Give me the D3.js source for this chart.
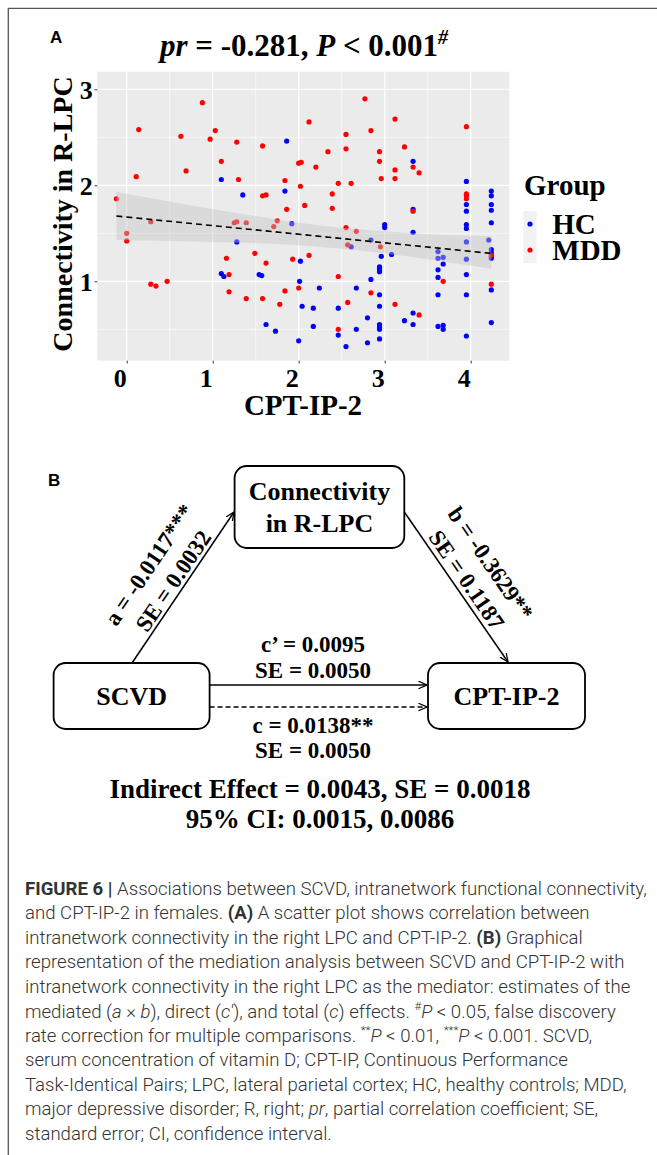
<!DOCTYPE html>
<html>
<head>
<meta charset="utf-8">
<script src="https://cdn.jsdelivr.net/npm/d3@7"></script>
<style>
body { margin: 0; background: #fff; }
svg { display: block; }
</style>
</head>
<body>
<div id="place"></div>
<script>
// scatter values (CPT-IP-2, connectivity in R-LPC)
const hcPoints = [
  [1.86, 2.46], [1.10, 2.06], [1.35, 1.90], [1.84, 1.94], [3.33, 2.25], [3.95, 2.04],
  [3.33, 1.75], [3.95, 1.80], [3.95, 1.73], [4.24, 1.94], [4.24, 1.89], [4.24, 1.80],
  [4.24, 1.74], [4.24, 1.61], [3.33, 1.51], [1.92, 1.60], [1.28, 1.41], [2.02, 1.21],
  [1.10, 1.08], [1.13, 1.05], [1.54, 1.07], [1.57, 1.06], [2.01, 1.00], [2.04, 0.74],
  [1.62, 0.55], [1.73, 0.48], [2.00, 0.38], [2.61, 1.36], [2.84, 1.43], [3.00, 1.59],
  [3.00, 1.56], [2.96, 1.26], [3.08, 1.28], [2.94, 1.15], [2.94, 1.13], [2.94, 1.10],
  [2.84, 1.02], [2.24, 0.93], [2.67, 0.93], [2.94, 0.86], [2.94, 0.74], [2.17, 0.72],
  [2.46, 0.72], [2.80, 0.62], [3.33, 0.67], [3.23, 0.59], [3.33, 0.55], [2.94, 0.55],
  [2.94, 0.52], [2.94, 0.50], [2.17, 0.53], [2.46, 0.44], [2.67, 0.50], [2.55, 0.32],
  [2.80, 0.36], [2.94, 0.40], [3.62, 1.31], [3.62, 1.24], [3.68, 1.25], [3.68, 1.18],
  [3.62, 1.12], [3.62, 1.04], [3.62, 0.86], [3.62, 0.53], [3.68, 0.54], [3.68, 0.50],
  [3.95, 1.59], [3.95, 1.55], [3.95, 1.41], [3.95, 1.23], [3.95, 1.07], [3.95, 0.86],
  [3.95, 0.43], [4.21, 1.43], [4.24, 1.33], [4.24, 1.30], [4.24, 1.26], [4.24, 1.24],
  [4.24, 0.91], [4.24, 0.57]
];
const mddPoints = [
  [0.88, 2.86], [0.14, 2.58], [0.63, 2.51], [1.03, 2.57], [0.97, 2.48], [1.28, 2.45],
  [1.58, 2.41], [1.10, 2.25], [0.69, 2.15], [0.11, 2.09], [1.30, 2.06], [1.84, 2.05],
  [2.02, 1.99], [2.00, 2.23], [2.03, 2.24], [1.58, 1.89], [1.62, 1.90], [-0.12, 1.86],
  [1.86, 1.75], [2.07, 1.79], [2.77, 2.90], [2.12, 2.66], [3.12, 2.69], [2.55, 2.53],
  [2.84, 2.57], [3.95, 2.61], [2.55, 2.38], [2.34, 2.35], [2.94, 2.35], [3.23, 2.40],
  [2.94, 2.25], [2.20, 2.19], [3.33, 2.19], [3.12, 2.16], [3.40, 2.13], [2.96, 2.07],
  [3.12, 2.07], [2.46, 2.02], [2.61, 2.02], [2.39, 1.91], [2.39, 1.76], [3.33, 1.73],
  [3.95, 1.91], [3.95, 1.89], [3.95, 1.86], [0.28, 1.62], [0.00, 1.50], [0.00, 1.42],
  [1.25, 1.61], [1.28, 1.62], [1.39, 1.61], [1.75, 1.63], [1.71, 1.57], [1.16, 1.24],
  [1.49, 1.29], [1.62, 1.19], [1.93, 1.23], [1.19, 1.07], [0.28, 0.97], [0.34, 0.95],
  [0.47, 1.00], [2.00, 0.93], [1.19, 0.89], [1.84, 0.90], [1.39, 0.82], [1.58, 0.82],
  [1.78, 0.76], [2.55, 1.56], [2.67, 1.52], [2.57, 1.38], [2.95, 1.36], [2.12, 1.27],
  [2.46, 1.05], [2.84, 0.88], [2.57, 0.78], [3.12, 0.76], [3.40, 0.65], [2.46, 0.50],
  [3.68, 1.00], [4.24, 1.27], [4.24, 0.97]
];

// fitted line and its grey band
const fitX = [-0.12, 4.24];
const fitY = [1.68, 1.29];
const bandX  = [-0.12, 0.5, 1.0, 1.5, 2.0, 2.6, 3.0, 3.5, 4.24];
const bandLo = [1.43, 1.42, 1.41, 1.40, 1.375, 1.33, 1.29, 1.23, 1.13];
const bandHi = [1.93, 1.83, 1.75, 1.68, 1.61, 1.55, 1.52, 1.49, 1.47];

const xTicks = [0, 1, 2, 3, 4];
const xMinor = [0.5, 1.5, 2.5, 3.5];
const yTicks = [1, 2, 3];
const yMinor = [0.5, 1.5, 2.5];
const groups = ["HC", "MDD"];
const groupColors = ["#0000ff", "#ff0000"];

// mediation model labels
const pathA = ["a = -0.0117***", "SE = 0.0032"];
const pathB = ["b = -0.3629**", "SE = 0.1187"];
const pathCp = ["c\u2019 = 0.0095", "SE = 0.0050"];
const pathC = ["c = 0.0138**", "SE = 0.0050"];
const indirect = ["Indirect Effect = 0.0043, SE = 0.0018", "95% CI: 0.0015, 0.0086"];

const caption = [
  [["FIGURE 6 |", "b"], [" Associations between SCVD, intranetwork functional connectivity,", ""]],
  [["and CPT-IP-2 in females. ", ""], ["(A)", "b"], [" A scatter plot shows correlation between", ""]],
  [["intranetwork connectivity in the right LPC and CPT-IP-2. ", ""], ["(B)", "b"], [" Graphical", ""]],
  [["representation of the mediation analysis between SCVD and CPT-IP-2 with", ""]],
  [["intranetwork connectivity in the right LPC as the mediator: estimates of the", ""]],
  [["mediated (", ""], ["a", "i"], [" \u00d7 ", ""], ["b", "i"], ["), direct (", ""], ["c\u2032", "i"],
   ["), and total (", ""], ["c", "i"], [") effects. ", ""], ["#", "s"], ["P", "i"], [" < 0.05, false discovery", ""]],
  [["rate correction for multiple comparisons. ", ""], ["**", "s"], ["P", "i"], [" < 0.01, ", ""],
   ["***", "s"], ["P", "i"], [" < 0.001. SCVD,", ""]],
  [["serum concentration of vitamin D; CPT-IP, Continuous Performance", ""]],
  [["Task-Identical Pairs; LPC, lateral parietal cortex; HC, healthy controls; MDD,", ""]],
  [["major depressive disorder; R, right; ", ""], ["pr", "i"], [", partial correlation coefficient; SE,", ""]],
  [["standard error; CI, confidence interval.", ""]]
];

const W = 657, H = 1155;
const serif = "'Liberation Serif', 'Times New Roman', serif";
const sans = "'Liberation Sans', Arial, sans-serif";

const svg = d3.select("#place").append("svg")
  .attr("width", W)
  .attr("height", H);

// frame
svg.append("path")
  .attr("d", "M8.3," + H + "V8.3H" + W)
  .attr("fill", "none")
  .attr("stroke", "#555")
  .attr("stroke-width", 1.3);

// ---------- panel A ----------
const panel = { left: 97.3, right: 509.3, top: 71.7, bottom: 360.7 };
const x = d3.scaleLinear().domain([-0.342, 4.449]).range([panel.left, panel.right]);
const y = d3.scaleLinear().domain([0.173, 3.183]).range([panel.bottom, panel.top]);

svg.append("text")
  .attr("x", 50).attr("y", 43)
  .attr("font-family", sans).attr("font-weight", 700).attr("font-size", 17)
  .text("A");

const title = svg.append("text")
  .attr("x", 304).attr("y", 56)
  .attr("text-anchor", "middle")
  .attr("font-family", serif).attr("font-weight", 700).attr("font-size", 31);
title.append("tspan").attr("font-style", "italic").text("pr");
title.append("tspan").text(" = -0.281, ");
title.append("tspan").attr("font-style", "italic").text("P");
title.append("tspan").text(" < 0.001");
title.append("tspan").attr("font-style", "italic").attr("font-size", 20).attr("dy", -12).text("#");

svg.append("rect")
  .attr("x", panel.left).attr("y", panel.top)
  .attr("width", panel.right - panel.left).attr("height", panel.bottom - panel.top)
  .attr("fill", "#ebebeb");

const grid = svg.append("g").attr("stroke", "#fff");
grid.selectAll(".xmin").data(xMinor).enter().append("line")
  .attr("x1", d => x(d)).attr("x2", d => x(d))
  .attr("y1", panel.top).attr("y2", panel.bottom).attr("stroke-width", 0.6);
grid.selectAll(".ymin").data(yMinor).enter().append("line")
  .attr("y1", d => y(d)).attr("y2", d => y(d))
  .attr("x1", panel.left).attr("x2", panel.right).attr("stroke-width", 0.6);
grid.selectAll(".xmaj").data(xTicks).enter().append("line")
  .attr("x1", d => x(d)).attr("x2", d => x(d))
  .attr("y1", panel.top).attr("y2", panel.bottom).attr("stroke-width", 1.2);
grid.selectAll(".ymaj").data(yTicks).enter().append("line")
  .attr("y1", d => y(d)).attr("y2", d => y(d))
  .attr("x1", panel.left).attr("x2", panel.right).attr("stroke-width", 1.2);

// points
[hcPoints, mddPoints].forEach((pts, i) => {
  svg.append("g").selectAll("circle")
    .data(pts)
    .enter().append("circle")
    .attr("cx", d => x(d[0]))
    .attr("cy", d => y(d[1]))
    .attr("r", 2.6)
    .attr("fill", groupColors[i]);
});

// confidence band drawn over the points, then the dashed fit
const band = bandX.map((bx, i) => [bx, bandLo[i], bandHi[i]]);
svg.append("path")
  .datum(band)
  .attr("d", d3.area()
    .x(d => x(d[0]))
    .y0(d => y(d[1]))
    .y1(d => y(d[2]))
    .curve(d3.curveMonotoneX))
  .attr("fill", "#c4c4c4")
  .attr("fill-opacity", 0.42);

svg.append("path")
  .datum(fitX.map((fx, i) => [fx, fitY[i]]))
  .attr("d", d3.line().x(d => x(d[0])).y(d => y(d[1])))
  .attr("fill", "none")
  .attr("stroke", "#000")
  .attr("stroke-width", 1.6)
  .attr("stroke-dasharray", "6,4");

// axes
const yAxis = svg.append("g")
  .attr("transform", "translate(" + panel.left + ",0)")
  .call(d3.axisLeft(y).tickValues(yTicks).tickSize(2.75).tickFormat(d3.format("d")));
const xAxis = svg.append("g")
  .attr("transform", "translate(0," + panel.bottom + ")")
  .call(d3.axisBottom(x).tickValues(xTicks).tickSize(2.75).tickFormat(d3.format("d")));
[xAxis, yAxis].forEach(a => {
  a.select(".domain").remove();
  a.selectAll(".tick line").attr("stroke", "#333").attr("stroke-width", 1);
  a.selectAll("text")
    .attr("font-family", serif).attr("font-weight", 700).attr("font-size", 26)
    .attr("fill", "#000");
});
yAxis.selectAll("text").attr("x", -4.5).attr("dy", "0.37em");
xAxis.selectAll("text").attr("y", 26).attr("dy", null).attr("dx", -7);

svg.append("text")
  .attr("x", 303).attr("y", 415)
  .attr("text-anchor", "middle")
  .attr("font-family", serif).attr("font-weight", 700).attr("font-size", 29)
  .text("CPT-IP-2");

svg.append("text")
  .attr("transform", "translate(72,214) rotate(-90)")
  .attr("text-anchor", "middle")
  .attr("font-family", serif).attr("font-weight", 700).attr("font-size", 28)
  .text("Connectivity in R-LPC");

// legend
svg.append("text")
  .attr("x", 524).attr("y", 195)
  .attr("font-family", serif).attr("font-weight", 700).attr("font-size", 29)
  .text("Group");
const leg = svg.append("g").selectAll("g")
  .data(groups)
  .enter().append("g")
  .attr("transform", (d, i) => "translate(523.3," + (211 + i * 26) + ")");
leg.append("rect").attr("width", 13.4).attr("height", 26).attr("fill", "#f2f2f2");
leg.append("circle").attr("cx", 6.7).attr("cy", 13).attr("r", 2.6)
  .attr("fill", (d, i) => groupColors[i]);
leg.append("text")
  .attr("x", 29).attr("y", 23)
  .attr("font-family", serif).attr("font-weight", 700).attr("font-size", 29)
  .text(d => d);

// ---------- panel B ----------
svg.append("text")
  .attr("x", 48).attr("y", 486)
  .attr("font-family", sans).attr("font-weight", 700).attr("font-size", 17)
  .text("B");

const defs = svg.append("defs");
defs.append("marker")
  .attr("id", "arrow")
  .attr("viewBox", "0 0 10 10")
  .attr("refX", 9.5).attr("refY", 5)
  .attr("markerWidth", 9).attr("markerHeight", 9)
  .attr("markerUnits", "userSpaceOnUse")
  .attr("orient", "auto")
  .append("path")
  .attr("d", "M0,0.8L9.5,5L0,9.2")
  .attr("fill", "none")
  .attr("stroke", "#000")
  .attr("stroke-width", 1.4);

const boxes = [
  { x: 234.6, y: 466, w: 169.7, h: 82, lines: ["Connectivity", "in R-LPC"], base: [500, 532] },
  { x: 53.6, y: 663, w: 156, h: 66, lines: ["SCVD"], base: [705] },
  { x: 428, y: 663, w: 157, h: 66, lines: ["CPT-IP-2"], base: [705] }
];
const boxG = svg.append("g").selectAll("g").data(boxes).enter().append("g");
boxG.append("rect")
  .attr("x", d => d.x).attr("y", d => d.y)
  .attr("width", d => d.w).attr("height", d => d.h)
  .attr("rx", 12)
  .attr("fill", "#fff").attr("stroke", "#000").attr("stroke-width", 1.8);
boxG.each(function(d) {
  d.lines.forEach((t, i) => {
    d3.select(this).append("text")
      .attr("x", d.x + d.w / 2).attr("y", d.base[i])
      .attr("text-anchor", "middle")
      .attr("font-family", serif).attr("font-weight", 700).attr("font-size", 26)
      .text(t);
  });
});

const arrows = [
  { p: [[132, 663], [234, 512]], dash: null },
  { p: [[404.3, 512], [508, 662]], dash: null },
  { p: [[209.6, 685], [427, 685]], dash: null },
  { p: [[209.6, 707], [427, 707]], dash: "5,3" }
];
svg.append("g").selectAll("path").data(arrows).enter().append("path")
  .attr("d", d => d3.line()(d.p))
  .attr("fill", "none")
  .attr("stroke", "#000")
  .attr("stroke-width", 1.5)
  .attr("stroke-dasharray", d => d.dash)
  .attr("marker-end", "url(#arrow)");

function slantLabels(a, labels, offs) {
  const [p0, p1] = a.p;
  const mx = (p0[0] + p1[0]) / 2, my = (p0[1] + p1[1]) / 2;
  let ang = Math.atan2(p1[1] - p0[1], p1[0] - p0[0]) * 180 / Math.PI;
  if (ang < -90) ang += 180;
  const g = svg.append("g").attr("transform", "translate(" + mx + "," + my + ") rotate(" + ang + ")");
  labels.forEach((t, i) => {
    g.append("text")
      .attr("x", 0).attr("y", offs[i])
      .attr("text-anchor", "middle")
      .attr("font-family", serif).attr("font-weight", 700).attr("font-size", 23)
      .text(t);
  });
}
// left arrow drawn upward: flip so the text reads bottom-to-top
slantLabels({ p: [arrows[0].p[0], arrows[0].p[1]] }, pathA, [-33, -4]);
slantLabels(arrows[1], pathB, [-34, -5]);

const midText = [[pathCp[0], 652], [pathCp[1], 678], [pathC[0], 733], [pathC[1], 758]];
svg.append("g").selectAll("text").data(midText).enter().append("text")
  .attr("x", 313).attr("y", d => d[1])
  .attr("text-anchor", "middle")
  .attr("font-family", serif).attr("font-weight", 700).attr("font-size", 23)
  .text(d => d[0]);

svg.append("g").selectAll("text").data(indirect).enter().append("text")
  .attr("x", 320).attr("y", (d, i) => 798 + i * 30)
  .attr("text-anchor", "middle")
  .attr("font-family", serif).attr("font-weight", 700).attr("font-size", 27)
  .text(d => d);

// ---------- caption ----------
const capSize = 18;
const capG = svg.append("g")
  .attr("font-family", "Roboto, 'Liberation Sans', sans-serif")
  .attr("font-weight", 300)
  .attr("font-size", capSize)
  .attr("fill", "#333");
const capLines = caption.map((segs, li) => {
  const t = capG.append("text").attr("x", 0).attr("y", 895 + li * 24.5);
  let raised = false;
  segs.forEach(([txt, st]) => {
    const ts = t.append("tspan").text(txt);
    if (st === "b") ts.attr("font-weight", 700);
    if (st === "i") ts.attr("font-style", "italic");
    if (st === "s") {
      ts.attr("font-size", capSize * 0.62);
      if (!raised) { ts.attr("dy", -capSize * 0.42); raised = true; }
    } else if (raised) {
      ts.attr("dy", capSize * 0.42);
      raised = false;
    }
  });
  return t;
});
const firstW = capLines[0].node().getComputedTextLength();
const sx = 622 / firstW;
capG.attr("transform", "translate(25,0) scale(" + sx + ",1)");
</script>
</body>
</html>
